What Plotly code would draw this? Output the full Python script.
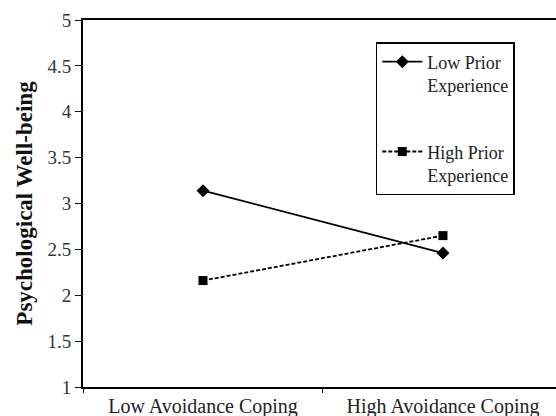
import plotly.graph_objects as go

categories = ["Low Avoidance Coping", "High Avoidance Coping"]
low_prior = [3.14, 2.46]
high_prior = [2.16, 2.65]
series_names = ["Low Prior<br>Experience", "High Prior<br>Experience"]
y_ticks = [1, 1.5, 2, 2.5, 3, 3.5, 4, 4.5, 5]

fig = go.Figure()
fig.add_trace(go.Scatter(
    x=categories, y=low_prior, name=series_names[0], mode="lines+markers",
    line=dict(color="black", width=1.8),
    marker=dict(symbol="diamond", size=10, color="black"),
    legendgroup="a"))
fig.add_trace(go.Scatter(
    x=categories, y=high_prior, name=series_names[1], mode="lines+markers",
    line=dict(color="black", width=1.8, dash="4px,2px"),
    marker=dict(symbol="square", size=9, color="black"),
    legendgroup="b"))

font_family = "Liberation Serif"
fig.update_layout(
    width=556, height=416,
    margin=dict(l=83, r=0, t=20, b=29),
    plot_bgcolor="white", paper_bgcolor="white",
    font=dict(family=font_family, color="#222", size=16),
    showlegend=True,
    legend=dict(x=0.619, y=0.94, xanchor="left", yanchor="top",
                bordercolor="black", borderwidth=1.5, bgcolor="white",
                font=dict(family=font_family, size=18, color="#222"),
                valign="top",
                tracegroupgap=40, itemwidth=40),
    xaxis=dict(type="category", range=[-0.5, 1.471], showline=True,
               linecolor="black", linewidth=2, mirror=True, automargin=False,
               ticks="outside", tickson="boundaries", ticklen=4,
               tickcolor="black", showgrid=False, ticklabelstandoff=0,
               tickfont=dict(size=20, family=font_family, color="#222")),
    yaxis=dict(range=[1, 5], tickvals=y_ticks, ticktext=[f"{v:g}" for v in y_ticks],
               showline=True, linecolor="black", linewidth=2, mirror=True,
               automargin=False,
               ticks="outside", ticklen=6, tickcolor="black", showgrid=False,
               zeroline=False,
               tickfont=dict(size=19, family=font_family, color="#333"),
               title=dict(text="<b>Psychological Well-being</b>",
                          font=dict(size=23, family=font_family, color="#111"),
                          standoff=8)),
)

fig.write_html("out.html", config={"displayModeBar": False},
               post_script="document.body.style.margin='0';document.body.style.overflow='hidden';")
